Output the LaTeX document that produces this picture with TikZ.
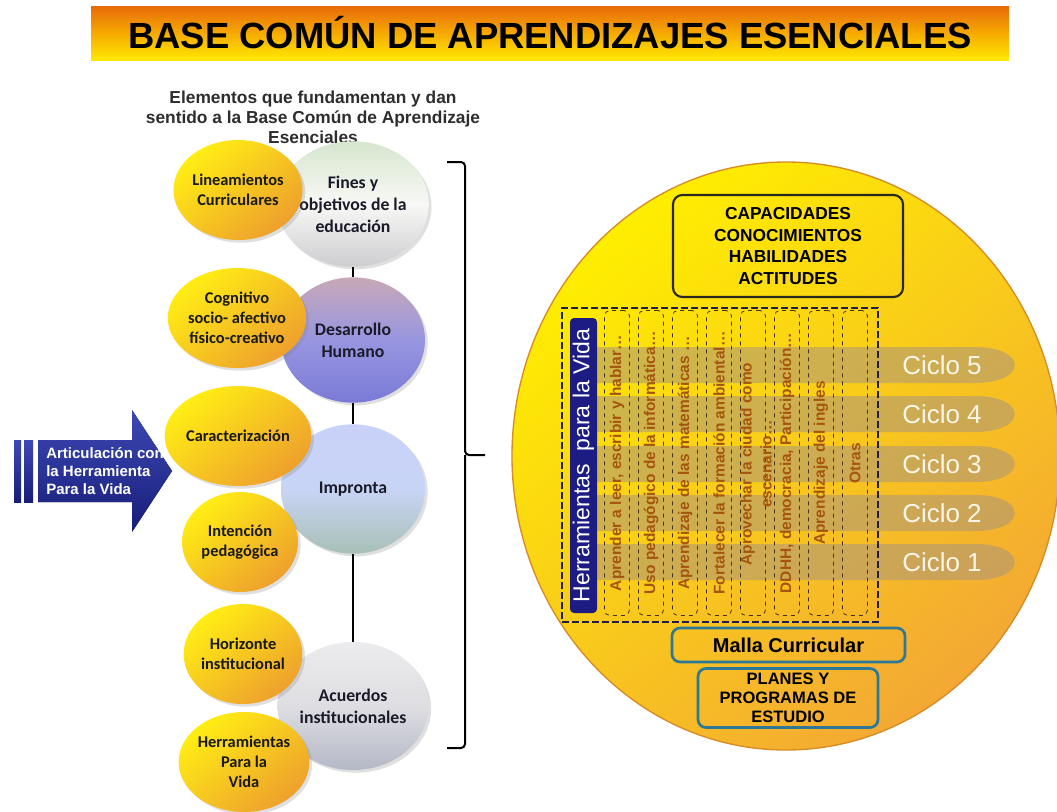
\documentclass[tikz,border=0pt]{standalone}
\usepackage{fontspec}
\setmainfont{Liberation Sans}
\newfontfamily\ballfont{Carlito}
\usetikzlibrary{shapes.geometric, shadows, positioning}

\definecolor{titleorange}{RGB}{232,106,10}
\definecolor{titlemid}{RGB}{246,170,0}
\definecolor{titleyellow}{RGB}{255,232,0}
\definecolor{ballyellow}{RGB}{255,238,20}
\definecolor{ballorange}{RGB}{238,160,45}
\definecolor{balltext}{RGB}{26,26,40}
\definecolor{arrowlight}{RGB}{62,72,180}
\definecolor{arrowdark}{RGB}{22,30,120}
\definecolor{diskyellow}{RGB}{255,238,0}
\definecolor{diskorange}{RGB}{243,168,52}
\definecolor{bandtan}{RGB}{170,150,125}
\definecolor{navybox}{RGB}{28,28,130}
\definecolor{coltextcol}{RGB}{165,85,15}
\definecolor{tealline}{RGB}{45,120,150}

\begin{document}
\begin{tikzpicture}[
  x=0.75pt, y=-0.75pt,
  bigball/.style={ellipse, minimum width=108pt, minimum height=94pt, inner sep=0pt, align=center,
    font=\ballfont\bfseries\fontsize{13.3}{16.5}\selectfont, text=balltext,
    drop shadow={opacity=0.25, shadow xshift=2pt, shadow yshift=-2pt}},
  smallball/.style={ellipse, minimum width=87pt, minimum height=75pt, inner sep=0pt, align=center,
    font=\ballfont\bfseries\fontsize{12.3}{15}\selectfont, text=black!90,
    top color=ballyellow, bottom color=ballorange, shading angle=40,
    drop shadow={opacity=0.25, shadow xshift=2pt, shadow yshift=-2pt}},
  link/.style={line width=2.2pt},
  brace/.style={line width=1.5pt, rounded corners=3pt},
  band/.style={fill=bandtan, opacity=0.55},
  colbox/.style={draw={rgb,255:red,70;green,50;blue,30}, dashed, line width=0.6pt, rounded corners=4pt,
    minimum width=18.75pt, minimum height=228.75pt, inner sep=0pt},
  coltext/.style={rotate=90, align=center, text=coltextcol, inner sep=0pt,
    font=\bfseries\fontsize{11.6}{15}\selectfont},
  ciclo/.style={text={rgb,255:red,250;green,246;blue,232}, font=\fontsize{19.5}{22}\selectfont},
  tealbox/.style={draw=tealline, line width=2pt, rounded corners=6pt, align=center, inner sep=0pt}
]

\useasboundingbox (0,0) rectangle (1057,811);
\fill[white] (0,0) rectangle (1057,811);

% Title
\node[minimum width=688.5pt, minimum height=40.5pt, inner sep=0pt,
  top color=titleorange, bottom color=titleyellow, middle color=titlemid,
  font=\bfseries\fontsize{27.3}{30}\selectfont] (title) at (550,33)
  {BASE COMÚN DE APRENDIZAJES ESENCIALES};

% Subtitle
\node[align=center, text={rgb,255:red,45;green,45;blue,45}, font=\bfseries\fontsize{13}{15}\selectfont] (sub) at (313,117)
  {Elementos que fundamentan y dan\\sentido a la Base Común de Aprendizaje\\Esenciales};

% Blue arrow
\fill[top color=arrowlight, bottom color=arrowdark] (14,440) rectangle (21,502);
\fill[top color=arrowlight, bottom color=arrowdark] (24,440) rectangle (33,502);
\fill[top color=arrowlight, bottom color=arrowdark]
  (38,440) -- (132,440) -- (132,410) -- (172,471) -- (132,532) -- (132,502) -- (38,502) -- cycle;
\node[anchor=west, align=left, text=white, inner sep=0pt, font=\bfseries\fontsize{11.25}{13.5}\selectfont] (artic) at (46,471)
  {Articulación con\\la Herramienta\\Para la Vida};

% Main elements
\node[bigball, top color={rgb,255:red,214;green,230;blue,206}, bottom color={rgb,255:red,205;green,205;blue,208},
  middle color={rgb,255:red,248;green,248;blue,246}] (fines) at (353,204) {Fines y\\objetivos de la\\educación};
\node[bigball, top color={rgb,255:red,200;green,168;blue,184}, bottom color={rgb,255:red,122;green,122;blue,214},
  middle color={rgb,255:red,152;green,150;blue,224}] (desarrollo) at (353,340) {Desarrollo\\Humano};
\node[bigball, minimum height=97pt, top color={rgb,255:red,200;green,210;blue,248}, bottom color={rgb,255:red,168;green,192;blue,182},
  middle color={rgb,255:red,200;green,212;blue,246}] (impronta) at (353,489) {Impronta};
\node[bigball, minimum height=96pt, top color={rgb,255:red,236;green,236;blue,238}, bottom color={rgb,255:red,180;green,184;blue,198},
  middle color={rgb,255:red,222;green,222;blue,226}] (acuerdos) at (353,706) {Acuerdos\\institucionales};

% Connections
\draw[link] (fines) -- (desarrollo);
\draw[link] (desarrollo) -- (impronta);
\draw[link] (impronta) -- (acuerdos);

% Related elements
\node[smallball] (linea) at (238,190) {Lineamientos\\Curriculares};
\node[smallball] (cogni) at (237,318) {Cognitivo\\socio- afectivo\\físico-creativo};
\node[smallball] (carac) at (238,436) {Caracterización};
\node[smallball] (inten) at (240,542) {Intención\\pedagógica};
\node[smallball] (horiz) at (243,654) {Horizonte\\institucional};
\node[smallball] (herram) at (244,762) {Herramientas\\Para la\\Vida};

% Bracket
\draw[brace] (447,162) -- (465,162) -- (465,455) -- (485,455) (465,455) -- (465,748) -- (447,748);

% Disk
\shade[top color=diskyellow, bottom color=diskorange, shading angle=40,
  draw={rgb,255:red,214;green,140;blue,35}, line width=1pt] (786,456) ellipse [x radius=205.5pt, y radius=220.5pt];

% Cycles
\fill[band] (597,347) -- (975,347) .. controls (1028,347) and (1028,383) .. (975,383) -- (597,383) -- cycle;
\fill[band] (597,396) -- (975,396) .. controls (1028,396) and (1028,432) .. (975,432) -- (597,432) -- cycle;
\fill[band] (597,446) -- (975,446) .. controls (1028,446) and (1028,482) .. (975,482) -- (597,482) -- cycle;
\fill[band] (597,495) -- (975,495) .. controls (1028,495) and (1028,531) .. (975,531) -- (597,531) -- cycle;
\fill[band] (597,544) -- (975,544) .. controls (1028,544) and (1028,580) .. (975,580) -- (597,580) -- cycle;

\node[ciclo] (ciclo5) at (942,365) {Ciclo 5};
\node[ciclo] (ciclo4) at (942,414) {Ciclo 4};
\node[ciclo] (ciclo3) at (942,464) {Ciclo 3};
\node[ciclo] (ciclo2) at (942,513) {Ciclo 2};
\node[ciclo] (ciclo1) at (942,562) {Ciclo 1};

% Tools
\node[draw={rgb,255:red,30;green,30;blue,70}, line width=2pt, dash pattern=on 5pt off 2.5pt,
  minimum width=237pt, minimum height=235.5pt, inner sep=0pt] (tools) at (720,465) {};
\node[rotate=90, fill=navybox, rounded corners=3pt, text=white, inner sep=0pt,
  minimum width=221.25pt, minimum height=20.25pt, font=\fontsize{17.25}{19}\selectfont] (herr) at (583.5,465.5)
  {Herramientas\ \ para la Vida};

\node[colbox] (col1) at (617,463) {};
\node[colbox] (col2) at (651,463) {};
\node[colbox] (col3) at (685,463) {};
\node[colbox] (col4) at (719,463) {};
\node[colbox] (col5) at (753,463) {};
\node[colbox] (col6) at (787,463) {};
\node[colbox] (col7) at (821,463) {};
\node[colbox] (col8) at (855,463) {};

\node[coltext] (txt1) at (col1) {Aprender a leer, escribir y hablar…};
\node[coltext] (txt2) at (col2) {Uso pedagógico de la informática…};
\node[coltext] (txt3) at (col3) {Aprendizaje de las matemáticas …};
\node[coltext] (txt4) at (col4) {Fortalecer la formación ambiental…};
\node[coltext] (txt5) at (756,464) {Aprovechar la ciudad como\\escenario…};
\node[coltext] (txt6) at (col6) {DDHH, democracia, Participación…};
\node[coltext] (txt7) at (col7) {Aprendizaje del ingles};
\node[coltext] (txt8) at (col8) {Otras};

% Boxes
\node[draw={rgb,255:red,40;green,40;blue,30}, line width=1.6pt, rounded corners=7pt, align=center, inner sep=0pt,
  minimum width=172.5pt, minimum height=76.5pt, font=\bfseries\fontsize{13}{16.3}\selectfont] (capac) at (788,246)
  {CAPACIDADES\\CONOCIMIENTOS\\HABILIDADES\\ACTITUDES};
\node[tealbox, minimum width=174.75pt, minimum height=25.5pt, font=\bfseries\fontsize{15}{17}\selectfont] (malla) at (788.5,645)
  {Malla Curricular};
\node[tealbox, minimum width=135pt, minimum height=44.25pt, font=\bfseries\fontsize{12.4}{14.25}\selectfont] (planes) at (788,698)
  {PLANES Y\\PROGRAMAS DE\\ESTUDIO};

\end{tikzpicture}
\end{document}
